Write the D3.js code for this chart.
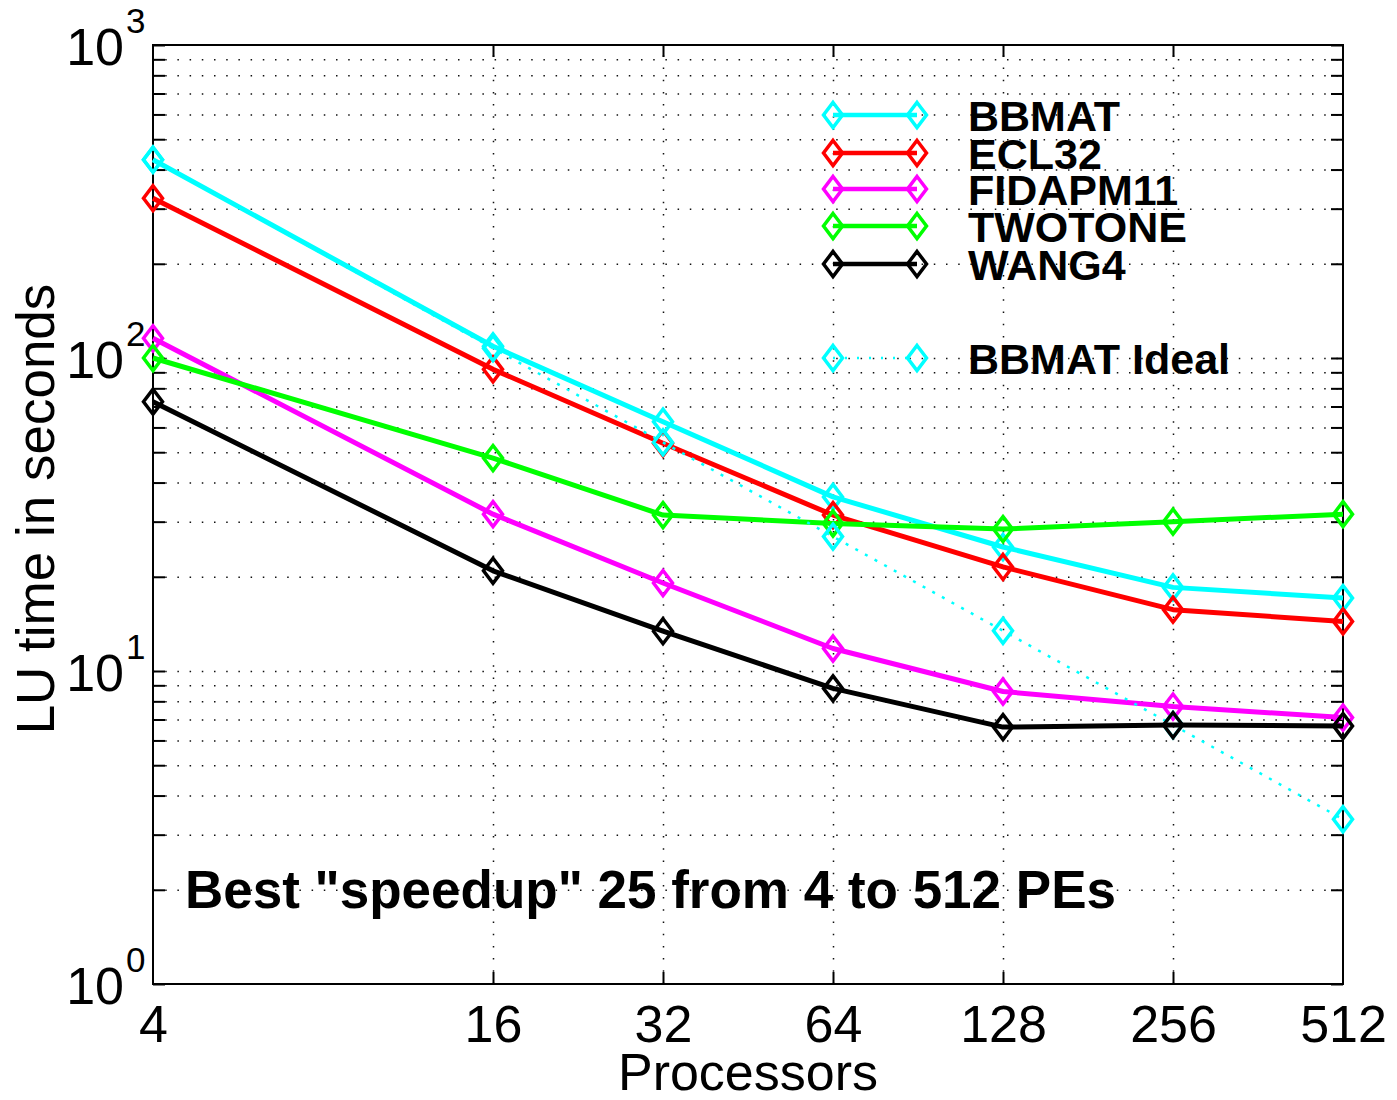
<!DOCTYPE html>
<html>
<head>
<meta charset="utf-8">
<script src="https://cdn.jsdelivr.net/npm/d3@7"></script>
<style>
  html, body { margin: 0; padding: 0; background: #fff; }
  svg { display: block; font-family: "Liberation Sans", Arial, Helvetica, sans-serif; }
</style>
</head>
<body>
<svg id="chart" width="1397" height="1100"></svg>
<script>
// Processor counts (x) and LU factorisation times in seconds (y)
const processors = [4, 16, 32, 64, 128, 256, 512];
const bbmat      = [430, 109, 62.6, 36.0, 24.9, 18.5, 17.1];
const ecl32      = [324, 92, 53.4, 31.5, 21.5, 15.7, 14.4];
const fidapm11   = [115.6, 31.7, 19.1, 11.8, 8.6, 7.7, 7.1];
const twotone    = [100, 47.9, 31.5, 29.6, 28.4, 30.0, 31.7];
const wang4      = [72.5, 20.9, 13.4, 8.8, 6.62, 6.72, 6.67];
const bbmatIdeal = [430, 107.5, 53.75, 26.88, 13.44, 6.72, 3.36];

const seriesNames  = ["BBMAT", "ECL32", "FIDAPM11", "TWOTONE", "WANG4", "BBMAT Ideal"];
const seriesColors = ["#00ffff", "#ff0000", "#ff00ff", "#00ff00", "#000000", "#00ffff"];
const xTickValues  = [4, 16, 32, 64, 128, 256, 512];
const yDecades     = [1, 10, 100, 1000];
const yExponents   = ["0", "1", "2", "3"];

(function () {
const series = [
  { name: seriesNames[0], values: bbmat,      color: seriesColors[0], dotted: false },
  { name: seriesNames[1], values: ecl32,      color: seriesColors[1], dotted: false },
  { name: seriesNames[2], values: fidapm11,   color: seriesColors[2], dotted: false },
  { name: seriesNames[3], values: twotone,    color: seriesColors[3], dotted: false },
  { name: seriesNames[5], values: bbmatIdeal, color: seriesColors[5], dotted: true  },
  { name: seriesNames[4], values: wang4,      color: seriesColors[4], dotted: false }
];
const legendOrder = [0, 1, 2, 3, 4, 5];

const svg = d3.select("#chart");
const pL = 153, pR = 1343, pT = 45, pB = 984;
const W = pR - pL, H = pB - pT;
const font = '"Liberation Sans", Arial, Helvetica, sans-serif';

const x = d3.scaleLog().base(2).domain([4, 512]).range([pL, pR]);
const y = d3.scaleLog().base(10).domain([1, 1000]).range([pB, pT]);

// every 1..9 x 10^k value for grid and minor ticks
const yAll = [];
for (let k = 0; k < 3; k++) for (let m = 1; m <= 9; m++) yAll.push(m * Math.pow(10, k));
yAll.push(1000);
const yInner = yAll.filter(v => v > 1 && v < 1000);
const xInner = xTickValues.filter(v => v > 4 && v < 512);

// dotted grid
const gridY = svg.append("g").attr("transform", `translate(${pL},0)`)
  .call(d3.axisLeft(y).tickValues(yInner).tickSize(-W).tickFormat(""));
gridY.select(".domain").remove();
gridY.selectAll("line").attr("stroke", "#111").attr("stroke-width", 1.5)
  .attr("stroke-dasharray", "1.5,10.7");

const gridX = svg.append("g").attr("transform", `translate(0,${pB})`)
  .call(d3.axisBottom(x).tickValues(xInner).tickSize(-H).tickFormat(""));
gridX.select(".domain").remove();
gridX.selectAll("line").attr("stroke", "#111").attr("stroke-width", 1.5)
  .attr("stroke-dasharray", "1.5,10.7");

// box
svg.append("rect").attr("x", pL).attr("y", pT).attr("width", W).attr("height", H)
  .attr("fill", "none").attr("stroke", "#000").attr("stroke-width", 2);

// inward ticks on all four sides
function styleTicks(g) {
  g.select(".domain").remove();
  g.selectAll("line").attr("stroke", "#000").attr("stroke-width", 2);
}
svg.append("g").attr("transform", `translate(${pL},0)`)
  .call(d3.axisLeft(y).tickValues(yAll).tickSize(-12).tickFormat("")).call(styleTicks);
svg.append("g").attr("transform", `translate(${pR},0)`)
  .call(d3.axisRight(y).tickValues(yAll).tickSize(-12).tickFormat("")).call(styleTicks);
svg.append("g").attr("transform", `translate(0,${pT})`)
  .call(d3.axisTop(x).tickValues(xInner).tickSize(-12).tickFormat("")).call(styleTicks);

// bottom axis with labels
const xAxis = svg.append("g").attr("transform", `translate(0,${pB})`)
  .call(d3.axisBottom(x).tickValues(xTickValues).tickSize(-12).tickFormat(d => String(d)));
xAxis.select(".domain").remove();
xAxis.selectAll("line").attr("stroke", "#000").attr("stroke-width", 2)
  .filter(d => d === 4 || d === 512).remove();
xAxis.selectAll("text").attr("y", 58).attr("dy", 0)
  .attr("font-family", font).attr("font-size", 52).attr("fill", "#000");

// y tick labels as 10^k
yDecades.forEach((v, i) => {
  svg.append("text").attr("font-family", font).attr("fill", "#000")
    .attr("x", 124).attr("y", y(v) + 20).attr("text-anchor", "end")
    .attr("font-size", 52).text("10");
  svg.append("text").attr("font-family", font).attr("fill", "#000")
    .attr("x", 126).attr("y", y(v) - 12).attr("font-size", 35).text(yExponents[i]);
});

// axis titles
svg.append("text").attr("x", (pL + pR) / 2).attr("y", 1090)
  .attr("text-anchor", "middle").attr("font-family", font).attr("font-size", 52)
  .text("Processors");
svg.append("text").attr("transform", "translate(54,509) rotate(-90)")
  .attr("text-anchor", "middle").attr("font-family", font).attr("font-size", 53)
  .text("LU time in seconds");

// diamond marker
function diamond(cx, cy) {
  const hw = 9.5, hh = 12.5;
  return `M${cx},${cy - hh}L${cx + hw},${cy}L${cx},${cy + hh}L${cx - hw},${cy}Z`;
}

const line = d3.line().x(d => x(d[0])).y(d => y(d[1]));
const plot = svg.append("g");
series.forEach(s => {
  const pts = processors.map((p, i) => [p, s.values[i]]);
  plot.append("path").datum(pts).attr("d", line).attr("fill", "none")
    .attr("stroke", s.color)
    .attr("stroke-width", s.dotted ? 2.5 : 5)
    .attr("stroke-dasharray", s.dotted ? "3,8" : null)
    .attr("stroke-linejoin", "round");
  plot.selectAll(null).data(pts).enter().append("path")
    .attr("d", d => diamond(x(d[0]), y(d[1])))
    .attr("fill", "none").attr("stroke", s.color).attr("stroke-width", 3.5);
});

// legend
const legendRows = [115, 153, 189, 226, 264, 358];
const legend = svg.append("g");
legendOrder.forEach((si, r) => {
  const s = series.find(d => d.name === seriesNames[si]);
  const ly = legendRows[r];
  legend.append("line").attr("x1", 833).attr("x2", 917).attr("y1", ly).attr("y2", ly)
    .attr("stroke", s.color).attr("stroke-width", s.dotted ? 2.5 : 4.5)
    .attr("stroke-dasharray", s.dotted ? "2,10" : null);
  [833, 917].forEach(cx => legend.append("path").attr("d", diamond(cx, ly))
    .attr("fill", "none").attr("stroke", s.color).attr("stroke-width", 3.5));
  legend.append("text").attr("x", 968).attr("y", ly + 16)
    .attr("font-family", font).attr("font-weight", "bold").attr("font-size", 43)
    .text(s.name);
});

// annotation
svg.append("text").attr("x", 185).attr("y", 908)
  .attr("font-family", font).attr("font-weight", "bold").attr("font-size", 53)
  .text('Best "speedup" 25 from 4 to 512 PEs');
})();
</script>
</body>
</html>
